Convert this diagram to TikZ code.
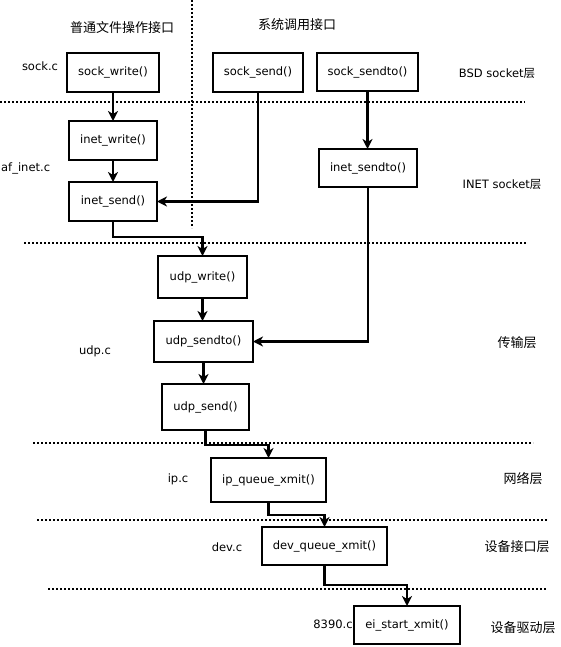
\documentclass[tikz,border=0pt]{standalone}
\usepackage{fontspec}
\setmainfont{DejaVu Sans}
\newfontfamily\cjk{Noto Sans CJK SC}
\usetikzlibrary{arrows.meta}
\begin{document}
\begin{tikzpicture}[x=1pt,y=-1pt,
  every node/.style={font=\fontsize{11.5}{13}\selectfont},
  fbox/.style={draw,line width=2.6pt,inner sep=0pt,outer sep=0pt,fill=white},
  arr/.style={line width=2.6pt,-{Stealth[length=10pt,width=10pt,inset=3pt]}},
  sep/.style={line width=2.2pt,dash pattern=on 2pt off 2pt},
  cj/.style={font=\cjk\fontsize{13}{15}\selectfont}]
\useasboundingbox (0,0) rectangle (561,647);
% separators
\draw[sep] (192,0) -- (192,228);
\draw[sep] (0,102) -- (525,102);
\draw[sep] (24,243) -- (527,243);
\draw[sep] (33,443) -- (533,443);
\draw[sep] (37,520) -- (547,520);
\draw[sep] (48,589) -- (547,589);
% boxes
\node[fbox,minimum width=92pt,minimum height=39pt] (sw) at (113,72.5) {sock\_write()};
\node[fbox,minimum width=90pt,minimum height=39pt] (ss) at (258,72.5) {sock\_send()};
\node[fbox,minimum width=101pt,minimum height=38pt] (sst) at (367.5,72) {sock\_sendto()};
\node[fbox,minimum width=88pt,minimum height=39pt] (iw) at (113,140.5) {inet\_write()};
\node[fbox,minimum width=88pt,minimum height=39pt] (is) at (113,201.5) {inet\_send()};
\node[fbox,minimum width=98pt,minimum height=38pt] (ist) at (368,168) {inet\_sendto()};
\node[fbox,minimum width=89pt,minimum height=42pt] (uw) at (202.5,277) {udp\_write()};
\node[fbox,minimum width=99pt,minimum height=41pt] (ust) at (203.5,341.5) {udp\_sendto()};
\node[fbox,minimum width=87pt,minimum height=46pt] (us) at (205.5,407) {udp\_send()};
\node[fbox,minimum width=115pt,minimum height=44pt] (ip) at (268.5,480) {ip\_queue\_xmit()};
\node[fbox,minimum width=125pt,minimum height=38pt] (dev) at (324.5,546) {dev\_queue\_xmit()};
\node[fbox,minimum width=106pt,minimum height=38pt] (ei) at (407,625) {ei\_start\_xmit()};
% junctions
\coordinate (j1) at (113,237);
\coordinate (j2) at (205.5,445);
\coordinate (j3) at (268.5,515);
\coordinate (j4) at (324.5,585);
% connectors
\draw[arr] (sw.south) -- (iw.north);
\draw[arr] (iw.south) -- (is.north);
\draw[arr] (ss.south) |- (is.east);
\draw[arr] (sst.south) -- (sst.south |- ist.north);
\draw[arr] (ist.south) |- (ust.east);
\draw[arr] (is.south) -- (j1) -| (uw.north);
\draw[arr] (uw.south) -- (uw.south |- ust.north);
\draw[arr] (ust.south) -- (ust.south |- us.north);
\draw[arr] (us.south) -- (j2) -| (ip.north);
\draw[arr] (ip.south) -- (j3) -| (dev.north);
\draw[arr] (dev.south) -- (j4) -| (ei.north);
% labels
\node[cj] (t1) at (122,28) {普通文件操作接口};
\node[cj] (t2) at (297,25) {系统调用接口};
\node (l1) at (40,66) {sock.c};
\node[anchor=west,inner sep=0pt] (l2) at (1,168) {af\_inet.c};
\node (l3) at (95,351) {udp.c};
\node (l4) at (178,479) {ip.c};
\node (l5) at (227,547) {dev.c};
\node (l6) at (333,624) {8390.c};
\node (r1) at (497,73) {BSD socket{\cjk 层}};
\node (r2) at (502,184) {INET socket{\cjk 层}};
\node[cj] (r3) at (517,343) {传输层};
\node[cj] (r4) at (523,479) {网络层};
\node[cj] (r5) at (517,547) {设备接口层};
\node[cj] (r6) at (523,628) {设备驱动层};
\end{tikzpicture}
\end{document}
